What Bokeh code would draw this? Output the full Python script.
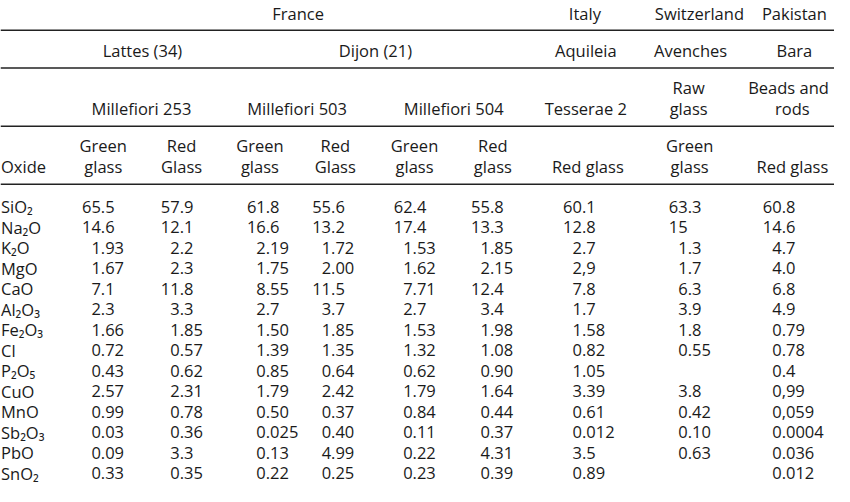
from bokeh.plotting import figure
from bokeh.models import Range1d, ColumnDataSource
from bokeh.core.properties import value
from bokeh.embed import file_html
from bokeh.resources import INLINE

# ---------------- data ----------------
oxides = ["SiO₂", "Na₂O", "K₂O", "MgO", "CaO", "Al₂O₃", "Fe₂O₃", "Cl",
          "P₂O₅", "CuO", "MnO", "Sb₂O₃", "PbO", "SnO₂"]

lattes_green = ["65.5", "14.6", "1.93", "1.67", "7.1", "2.3", "1.66", "0.72",
                "0.43", "2.57", "0.99", "0.03", "0.09", "0.33"]
lattes_red = ["57.9", "12.1", "2.2", "2.3", "11.8", "3.3", "1.85", "0.57",
              "0.62", "2.31", "0.78", "0.36", "3.3", "0.35"]
m503_green = ["61.8", "16.6", "2.19", "1.75", "8.55", "2.7", "1.50", "1.39",
              "0.85", "1.79", "0.50", "0.025", "0.13", "0.22"]
m503_red = ["55.6", "13.2", "1.72", "2.00", "11.5", "3.7", "1.85", "1.35",
            "0.64", "2.42", "0.37", "0.40", "4.99", "0.25"]
m504_green = ["62.4", "17.4", "1.53", "1.62", "7.71", "2.7", "1.53", "1.32",
              "0.62", "1.79", "0.84", "0.11", "0.22", "0.23"]
m504_red = ["55.8", "13.3", "1.85", "2.15", "12.4", "3.4", "1.98", "1.08",
            "0.90", "1.64", "0.44", "0.37", "4.31", "0.39"]
aquileia_red = ["60.1", "12.8", "2.7", "2,9", "7.8", "1.7", "1.58", "0.82",
                "1.05", "3.39", "0.61", "0.012", "3.5", "0.89"]
avenches_green = ["63.3", "15", "1.3", "1.7", "6.3", "3.9", "1.8", "0.55",
                  "", "3.8", "0.42", "0.10", "0.63", ""]
bara_red = ["60.8", "14.6", "4.7", "4.0", "6.8", "4.9", "0.79", "0.78",
            "0.4", "0,99", "0,059", "0.0004", "0.036", "0.012"]

columns = [lattes_green, lattes_red, m503_green, m503_red, m504_green,
           m504_red, aquileia_red, avenches_green, bara_red]

countries = ["France", "Italy", "Switzerland", "Pakistan"]
sites = ["Lattes (34)", "Dijon (21)", "Aquileia", "Avenches", "Bara"]
samples = ["Millefiori 253", "Millefiori 503", "Millefiori 504", "Tesserae 2"]
samples_two_line = [("Raw", "glass"), ("Beads and", "rods")]
glass_two_line = [("Green", "glass"), ("Red", "Glass"), ("Green", "glass"),
                  ("Red", "Glass"), ("Green", "glass"), ("Red", "glass"),
                  None, ("Green", "glass"), None]
glass_one_line = ["Red glass", "Red glass"]
oxide_header = "Oxide"

# ---------------- layout (reference pixel space 850 x 502) ----------------
W, H = 834, 486
FONT = value("Open Sans")
FS = "16.5px"
COLOR = "#1a1a1a"

p = figure(width=W, height=H, output_backend="svg", toolbar_location=None,
           x_range=Range1d(0, 852), y_range=Range1d(503, -5),
           min_border=0, outline_line_color=None)
p.axis.visible = False
p.xgrid.visible = False
p.ygrid.visible = False
p.background_fill_color = "white"
p.border_fill_color = "white"

def txt(xs, ys, texts, align="center"):
    src = ColumnDataSource(dict(x=xs, y=ys, t=texts))
    p.text(x="x", y="y", text="t", source=src, text_align=align,
           text_baseline="middle", text_font=FONT, text_font_size=FS,
           text_color=COLOR)

# horizontal rules
rule_y = [26, 65.5, 126.5, 187]
p.segment(x0=[0] * len(rule_y), x1=[852] * len(rule_y), y0=rule_y, y1=rule_y,
          line_color="#222222", line_width=1.5)

# header row 1: countries
txt([304, 597, 714, 811], [8.5] * 4, countries)
# header row 2: sites
txt([145, 383, 598, 705, 811], [47] * 5, sites)
# header row 3: samples
txt([144, 303, 463, 598], [108] * 4, samples)
txt([703, 805], [86] * 2, [a for a, b in samples_two_line])
txt([703, 809], [108] * 2, [b for a, b in samples_two_line])
# header row 4: glass type
col_centers = [105, 185, 265, 342, 423, 503, 600, 704, 809]
tx, ty, tt = [], [], []
ox, oy, ot = [], [], []
one_iter = iter(glass_one_line)
for cx, g in zip(col_centers, glass_two_line):
    if g is None:
        ox.append(cx); oy.append(168); ot.append(next(one_iter))
    else:
        tx += [cx, cx]; ty += [147, 168]; tt += [g[0], g[1]]
txt(tx, ty, tt)
txt(ox, oy, ot)
txt([0.5], [168], [oxide_header], align="left")

# body
row_y0, row_dy = 210.5, 21.45
row_ys = [row_y0 + i * row_dy for i in range(len(oxides))]
txt([0.5] * len(oxides), row_ys, oxides, align="left")

dec_x = [102.5, 183, 271, 337.7, 421, 500, 594, 702, 798]
digit_px = 0.572 * 16.5
bx, by, bt, boff = [], [], [], []
for dx, col in zip(dec_x, columns):
    for yv, s in zip(row_ys, col):
        if not s:
            continue
        sep = max(s.find("."), s.find(","))
        n_int = sep if sep >= 0 else len(s)
        bx.append(dx); by.append(yv); bt.append(s); boff.append(-n_int * digit_px)
src = ColumnDataSource(dict(x=bx, y=by, t=bt, off=boff))
p.text(x="x", y="y", text="t", x_offset="off", source=src, text_align="left",
       text_baseline="middle", text_font=FONT, text_font_size=FS,
       text_color=COLOR)

open("out.html", "w").write(file_html(p, INLINE))
